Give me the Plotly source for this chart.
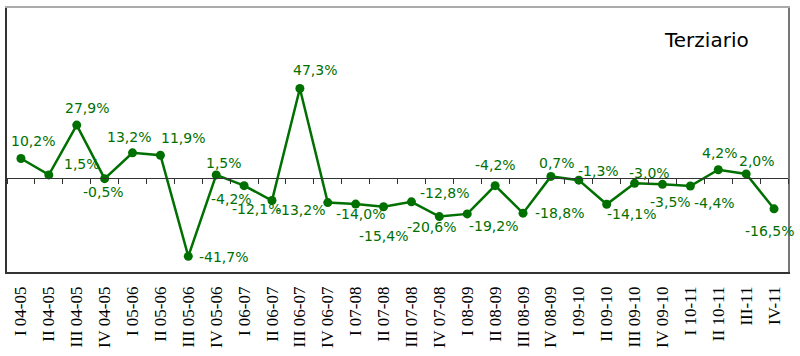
import plotly.graph_objects as go

categories = [
    "I 04-05", "II 04-05", "III 04-05", "IV 04-05",
    "I 05-06", "II 05-06", "III 05-06", "IV 05-06",
    "I 06-07", "II 06-07", "III 06-07", "IV 06-07",
    "I 07-08", "II 07-08", "III 07-08", "IV 07-08",
    "I 08-09", "II 08-09", "III 08-09", "IV 08-09",
    "I 09-10", "II 09-10", "III 09-10", "IV 09-10",
    "I 10-11", "II 10-11", "III-11", "IV-11",
]
values = [
    10.2, 1.5, 27.9, -0.5,
    13.2, 11.9, -41.7, 1.5,
    -4.2, -12.1, 47.3, -13.2,
    -14.0, -15.4, -12.8, -20.6,
    -19.2, -4.2, -18.8, 0.7,
    -1.3, -14.1, -3.0, -3.5,
    -4.4, 4.2, 2.0, -16.5,
]
title_text = "Terziario"

# label offsets in screen pixels (dx right, dy down) - style only
label_offsets = [
    (12, -17), (33, -11), (10, -17), (-1, 13),
    (-4, -16), (23, -17), (36, 1), (8, -12),
    (-13, 13), (-15, 8), (15, -19), (-27, 7),
    (5, 10), (0, 29), (34, -9), (-7, 10),
    (27, 12), (0, -21), (37, 0), (6, -13),
    (20, -9), (25, 10), (15, -10), (8, 18),
    (24, 17), (2, -17), (11, -13), (-4, 22),
]

GREEN = "#007000"
y_min, y_max = -50, 90
n = len(categories)

fig = go.Figure()
fig.add_trace(go.Scatter(
    x=list(range(n)), y=values, mode="lines+markers",
    line=dict(color=GREEN, width=2.5),
    marker=dict(color=GREEN, size=9),
    hoverinfo="skip", showlegend=False, cliponaxis=False,
))
# empty helper traces so the overlay axes (zero-line ticks, frame sides) are drawn
for xa, ya in (("x2", "y"), ("x3", "y"), ("x", "y2")):
    fig.add_trace(go.Scatter(x=[], y=[], xaxis=xa, yaxis=ya,
                             showlegend=False, hoverinfo="skip"))

annotations = []
for i, (v, (dx, dy)) in enumerate(zip(values, label_offsets)):
    txt = f"{v:.1f}%".replace(".", ",")
    annotations.append(dict(
        x=i, y=v, xref="x", yref="y", text=txt, showarrow=False,
        xshift=dx, yshift=-dy, xanchor="center", yanchor="middle",
        font=dict(family="DejaVu Sans", size=14, color=GREEN),
    ))
annotations.append(dict(
    x=0.896, y=0.879, xref="paper", yref="paper", text=title_text,
    showarrow=False, xanchor="center", yanchor="middle",
    font=dict(family="DejaVu Sans", size=20, color="#000000"),
))

zero_pos = (0 - y_min) / (y_max - y_min)

fig.update_layout(
    width=800, height=356,
    margin=dict(l=7, r=12, t=8, b=84, autoexpand=False),
    paper_bgcolor="white", plot_bgcolor="white",
    annotations=annotations,
    xaxis=dict(
        range=[-0.5, n - 0.5], automargin=False,
        tickmode="array", tickvals=list(range(n)), ticktext=categories,
        tickangle=-90, tickfont=dict(family="Liberation Serif", size=17, color="#000000"),
        ticks="outside", ticklen=6, tickcolor="rgba(0,0,0,0)",
        showgrid=False, zeroline=False,
        showline=True, linecolor="#333333", linewidth=1.5,
    ),
    xaxis2=dict(
        overlaying="x", anchor="free", position=zero_pos, automargin=False,
        range=[-0.5, n - 0.5],
        tickmode="linear", tick0=-0.5, dtick=1,
        ticks="outside", ticklen=5, tickcolor="#333333", tickwidth=1,
        showticklabels=False, showgrid=False, zeroline=False,
        showline=True, linecolor="#333333", linewidth=1,
    ),
    xaxis3=dict(
        overlaying="x", side="top", anchor="y", automargin=False,
        range=[-0.5, n - 0.5],
        showticklabels=False, showgrid=False, zeroline=False, ticks="",
        showline=True, linecolor="#aaaaaa", linewidth=1.5,
    ),
    yaxis=dict(
        range=[y_min, y_max], showticklabels=False, showgrid=False,
        zeroline=False, ticks="", automargin=False,
        showline=True, linecolor="#333333", linewidth=1.5,
    ),
    yaxis2=dict(
        overlaying="y", side="right", anchor="x", automargin=False,
        range=[y_min, y_max], showticklabels=False, showgrid=False,
        zeroline=False, ticks="",
        showline=True, linecolor="#777777", linewidth=1.5,
    ),
)

fig.write_html(
    "out.html",
    config={"displayModeBar": False},
    post_script="document.body.style.margin='0';document.body.style.padding='0';",
)
